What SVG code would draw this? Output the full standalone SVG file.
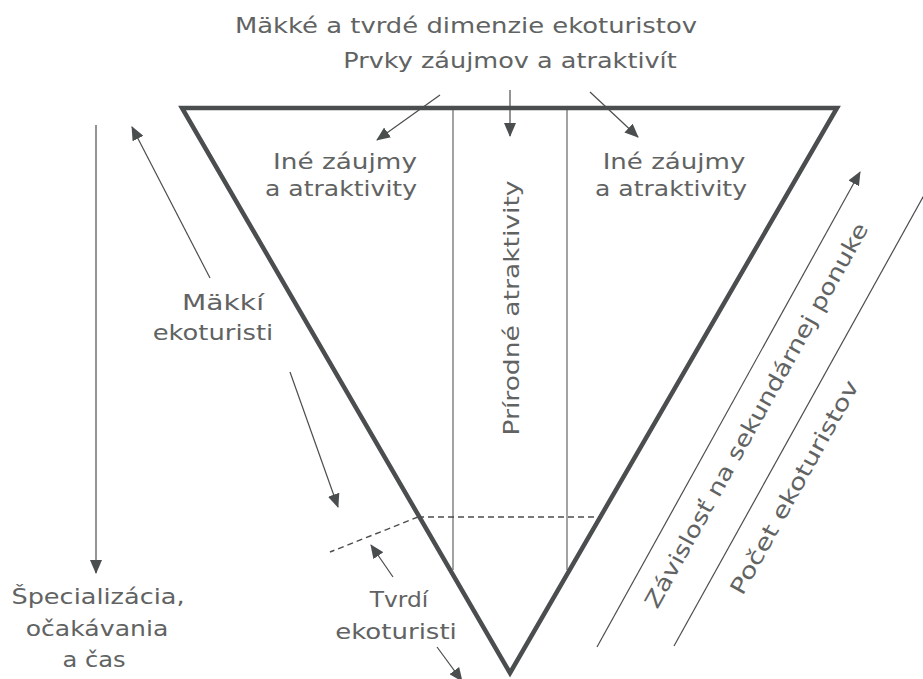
<svg xmlns="http://www.w3.org/2000/svg" width="923" height="679" viewBox="0 0 923 679">
<defs>
<marker id="ah" markerUnits="userSpaceOnUse" markerWidth="14" markerHeight="12" refX="13" refY="6" orient="auto">
<path d="M0,0 L14,6 L0,12 Z" fill="#4b4e4e"/>
</marker>
<style>
.t{font-family:"DejaVu Sans","Open Sans",sans-serif;font-size:22px;fill:#616363;text-anchor:middle;}
.arr{stroke:#4b4e4e;stroke-width:1.2;fill:none;marker-end:url(#ah);}
.v{stroke:#7a7c7c;stroke-width:1.4;fill:none;}
.dash{stroke:#4b4e4e;stroke-width:1.4;fill:none;stroke-dasharray:6 4;}
</style>
</defs>
<rect width="923" height="679" fill="#ffffff"/>
<g id="triangle">
<line class="v" x1="453" y1="110" x2="453" y2="570"/>
<line class="v" x1="567" y1="110" x2="567" y2="570"/>
<line class="dash" x1="418" y1="517" x2="600" y2="517"/>
<line class="dash" x1="418" y1="517" x2="330" y2="552"/>
<path d="M182,108 L837,108 L510,673 Z" fill="none" stroke="#4b4e4e" stroke-width="4.5" stroke-linejoin="miter"/>
</g>
<g id="connectors">
<line class="arr" x1="440" y1="95" x2="377" y2="140"/>
<line class="arr" x1="510" y1="90" x2="510" y2="136"/>
<line class="arr" x1="590" y1="92" x2="638" y2="137"/>
<line class="arr" x1="96" y1="125" x2="96" y2="573"/>
<line class="arr" x1="210" y1="278" x2="132" y2="127"/>
<line class="arr" x1="290" y1="372" x2="338" y2="507"/>
<line class="arr" x1="393" y1="577" x2="371" y2="545"/>
<line class="arr" x1="437" y1="647" x2="462" y2="681"/>
<line class="arr" x1="597" y1="647" x2="860" y2="172"/>
<line class="arr" x1="674" y1="646" x2="938" y2="170"/>
</g>
<g id="title">
<text class="t" transform="translate(466,33) scale(1.17,1)" textLength="395" lengthAdjust="spacingAndGlyphs">Mäkké a tvrdé dimenzie ekoturistov</text>
<text class="t" transform="translate(510,68) scale(1.17,1)" textLength="285" lengthAdjust="spacingAndGlyphs">Prvky záujmov a atraktivít</text>
</g>
<g id="left-interests">
<text class="t" transform="translate(345,169) scale(1.17,1)" textLength="123" lengthAdjust="spacingAndGlyphs">Iné záujmy</text>
<text class="t" transform="translate(341,196) scale(1.17,1)" textLength="130" lengthAdjust="spacingAndGlyphs">a atraktivity</text>
</g>
<g id="right-interests">
<text class="t" transform="translate(674,169) scale(1.17,1)" textLength="122" lengthAdjust="spacingAndGlyphs">Iné záujmy</text>
<text class="t" transform="translate(671,196) scale(1.17,1)" textLength="130" lengthAdjust="spacingAndGlyphs">a atraktivity</text>
</g>
<g id="natural">
<text class="t" transform="translate(519,308) rotate(-90) scale(1.17,1)" textLength="218" lengthAdjust="spacingAndGlyphs">Prírodné atraktivity</text>
</g>
<g id="soft">
<text class="t" transform="translate(223,310) scale(1.17,1)" textLength="70" lengthAdjust="spacingAndGlyphs">Mäkkí</text>
<text class="t" transform="translate(213,340) scale(1.17,1)" textLength="103" lengthAdjust="spacingAndGlyphs">ekoturisti</text>
</g>
<g id="hard">
<text class="t" transform="translate(399,607) scale(1.17,1)" textLength="50" lengthAdjust="spacingAndGlyphs">Tvrdí</text>
<text class="t" transform="translate(396,639) scale(1.17,1)" textLength="104" lengthAdjust="spacingAndGlyphs">ekoturisti</text>
</g>
<g id="specialization">
<text class="t" transform="translate(98,604) scale(1.17,1)" textLength="148" lengthAdjust="spacingAndGlyphs">Špecializácia,</text>
<text class="t" transform="translate(97,636) scale(1.17,1)" textLength="122" lengthAdjust="spacingAndGlyphs">očakávania</text>
<text class="t" transform="translate(94,667) scale(1.17,1)" textLength="54" lengthAdjust="spacingAndGlyphs">a čas</text>
</g>
<g id="dependency">
<text class="t" transform="translate(763,419) rotate(-61) scale(1.17,1)" textLength="373" lengthAdjust="spacingAndGlyphs">Závislosť na sekundárnej ponuke</text>
</g>
<g id="count">
<text class="t" transform="translate(801,491) rotate(-61) scale(1.17,1)" textLength="206" lengthAdjust="spacingAndGlyphs">Počet ekoturistov</text>
</g>
</svg>
